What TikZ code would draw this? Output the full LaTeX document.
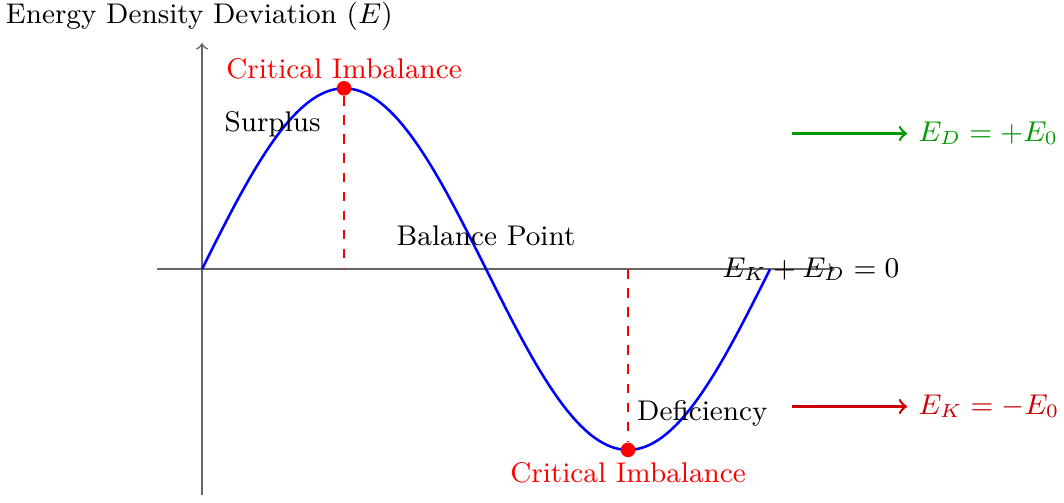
\documentclass[tikz,border=0pt]{standalone}
\usepackage{tikz}
\begin{document}
\begin{tikzpicture}[x=1cm,y=1cm,
  every node/.style={font=\fontsize{8.95pt}{11pt}\selectfont},
  axis/.style={->,black!60,line width=0.5pt},
  curve/.style={blue,thick},
  dot/.style={circle,fill=red,inner sep=0pt,minimum size=4.6pt},
  guide/.style={red,dashed,line width=0.4pt},
  redlabel/.style={text=red},
  stateg/.style={->,thick,green!60!black},
  stater/.style={->,thick,red!80!black}]
\useasboundingbox (-2.235,-2.577) rectangle (9.535,2.977);
% axes
\coordinate (xs) at (-0.5,0);
\coordinate (xe) at (7.0,0);
\coordinate (ys) at (0,-2.5);
\coordinate (ye) at (0,2.5);
\draw[axis] (xs) -- (xe);
\draw[axis] (ys) -- (ye);
\node (ylab) at (-0.03,2.80) {Energy Density Deviation ($E$)};
\node[right,inner sep=0pt] (xlab) at (5.75,0) {$E_K + E_D = 0$};
% curve
\draw[curve] plot[domain=0:2*pi,samples=200] (\x,{2*sin(\x r)});
% critical points
\node[dot] (top) at ({pi/2},2) {};
\node[dot] (bot) at ({3*pi/2},-2) {};
\coordinate (topfoot) at ({pi/2},0);
\coordinate (botfoot) at ({3*pi/2},0);
\draw[guide] (top) -- (topfoot);
\draw[guide] (botfoot) -- (bot);
\node[redlabel] (toplab) at ({pi/2},2.22) {Critical Imbalance};
\node[redlabel] (botlab) at ({3*pi/2},-2.25) {Critical Imbalance};
% region labels
\node (surplus) at (0.78,1.6) {Surplus};
\node (balance) at ({pi},0.37) {Balance Point};
\node[right] (deficiency) at (4.69,-1.6) {Deficiency};
% state arrows
\coordinate (ga) at (6.53,1.5);
\node[right,text=green!60!black] (gl) at (7.8,1.5) {$E_D = +E_0$};
\draw[stateg] (ga) -- (gl.west);
\coordinate (ra) at (6.53,-1.52);
\node[right,text=red!80!black] (rl) at (7.8,-1.52) {$E_K = -E_0$};
\draw[stater] (ra) -- (rl.west);
\end{tikzpicture}
\end{document}
